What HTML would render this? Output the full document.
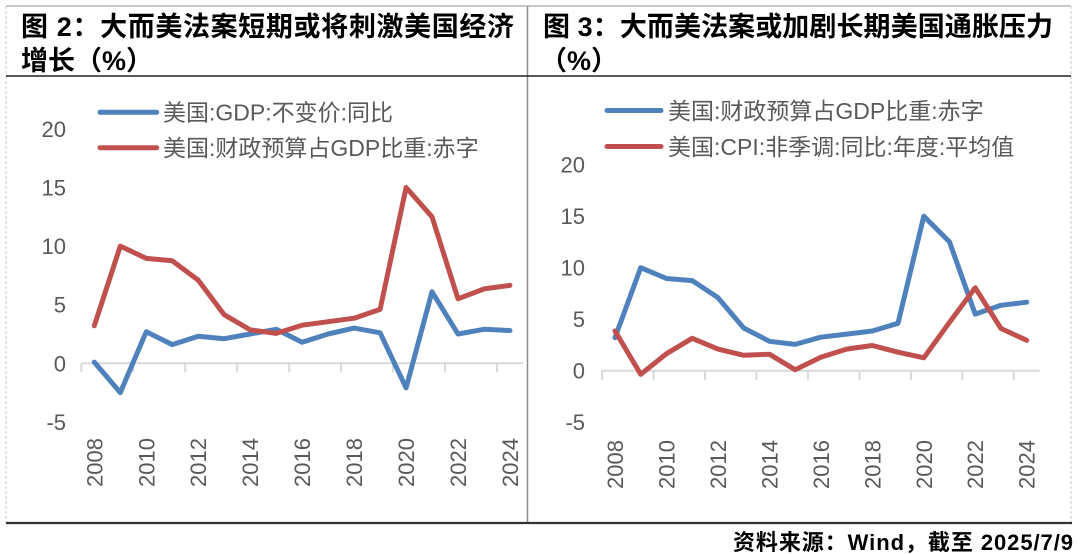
<!DOCTYPE html>
<html>
<head>
<meta charset="utf-8">
<style>
  html, body { margin:0; padding:0; background:#fff; }
  body { width:1080px; height:554px; overflow:hidden; }
  svg { display:block; }
  .t { font-family:"Liberation Sans","Noto Sans CJK SC",sans-serif; }
</style>
</head>
<body>
<svg width="1080" height="554" viewBox="0 0 1080 554" xmlns="http://www.w3.org/2000/svg">
  <rect x="0" y="0" width="1080" height="554" fill="#fff"/>

  <!-- frame -->
  <line x1="6" y1="6" x2="1071" y2="6" stroke="#a6a6a6" stroke-width="1.2"/>
  <line x1="6" y1="6" x2="6" y2="523" stroke="#c8c8c8" stroke-width="1" stroke-dasharray="3,2"/>
  <line x1="1071" y1="6" x2="1071" y2="523" stroke="#c8c8c8" stroke-width="1" stroke-dasharray="3,2"/>
  <line x1="527.5" y1="6" x2="527.5" y2="523" stroke="#8c8c8c" stroke-width="1.5"/>
  <line x1="6" y1="76" x2="1071" y2="76" stroke="#222" stroke-width="1.6"/>
  <line x1="6" y1="523" x2="1072" y2="523" stroke="#333" stroke-width="2.2"/>

  <!-- titles -->
  <g class="t" font-weight="bold" font-size="27" fill="#000">
    <text x="21" y="36" textLength="493">图 2：大而美法案短期或将刺激美国经济</text>
    <text x="21" y="70">增长（%）</text>
    <text x="543" y="36" textLength="510">图 3：大而美法案或加剧长期美国通胀压力</text>
    <text x="540" y="70">（%）</text>
  </g>

  <!-- footer -->
  <text class="t" x="1073" y="550" text-anchor="end" font-weight="bold" font-size="22" fill="#000" textLength="340">资料来源：Wind，截至 2025/7/9</text>

  <!-- ============ LEFT CHART ============ -->
  <!-- legend -->
  <line x1="100" y1="112.3" x2="156.7" y2="112.3" stroke="#4F81BD" stroke-width="5" stroke-linecap="round"/>
  <line x1="100" y1="147.7" x2="156.7" y2="147.7" stroke="#C0504D" stroke-width="5" stroke-linecap="round"/>
  <g class="t" font-size="23" fill="#595959">
    <text x="163" y="120.5">美国:GDP:不变价:同比</text>
    <text x="163" y="156">美国:财政预算占GDP比重:赤字</text>
  </g>

  <!-- y labels -->
  <g class="t" font-size="22" fill="#595959" text-anchor="end">
    <text x="66" y="136.9">20</text>
    <text x="66" y="195.5">15</text>
    <text x="66" y="254.1">10</text>
    <text x="66" y="312.7">5</text>
    <text x="66" y="371.3">0</text>
    <text x="66" y="429.9">-5</text>
  </g>

  <!-- axis -->
  <g stroke="#d9d9d9" stroke-width="2">
    <line x1="81.3" y1="363.3" x2="523" y2="363.3"/>
    <line x1="81.3" y1="363.3" x2="81.3" y2="372.3"/>
    <line x1="133.3" y1="363.3" x2="133.3" y2="372.3"/>
    <line x1="185.2" y1="363.3" x2="185.2" y2="372.3"/>
    <line x1="237.2" y1="363.3" x2="237.2" y2="372.3"/>
    <line x1="289.2" y1="363.3" x2="289.2" y2="372.3"/>
    <line x1="341.1" y1="363.3" x2="341.1" y2="372.3"/>
    <line x1="393.1" y1="363.3" x2="393.1" y2="372.3"/>
    <line x1="445.0" y1="363.3" x2="445.0" y2="372.3"/>
    <line x1="497.0" y1="363.3" x2="497.0" y2="372.3"/>
  </g>

  <!-- x labels -->
  <g class="t" font-size="22" fill="#595959" text-anchor="end">
    <text transform="translate(102.3,438) rotate(-90)">2008</text>
    <text transform="translate(154.3,438) rotate(-90)">2010</text>
    <text transform="translate(206.2,438) rotate(-90)">2012</text>
    <text transform="translate(258.2,438) rotate(-90)">2014</text>
    <text transform="translate(310.1,438) rotate(-90)">2016</text>
    <text transform="translate(362.1,438) rotate(-90)">2018</text>
    <text transform="translate(414.1,438) rotate(-90)">2020</text>
    <text transform="translate(466.0,438) rotate(-90)">2022</text>
    <text transform="translate(518.0,438) rotate(-90)">2024</text>
  </g>

  <!-- series -->
  <polyline fill="none" stroke="#4F81BD" stroke-width="5" stroke-linejoin="round" stroke-linecap="round"
    points="94.3,362.1 120.3,392.6 146.3,331.7 172.2,344.6 198.2,336.3 224.2,338.7 250.2,334.0 276.2,329.3 302.1,342.2 328.1,334.0 354.1,328.1 380.1,332.8 406.1,387.9 432.0,291.8 458.0,334.0 484.0,329.3 510.0,330.5"/>
  <polyline fill="none" stroke="#C0504D" stroke-width="5" stroke-linejoin="round" stroke-linecap="round"
    points="94.3,325.8 120.3,246.1 146.3,258.4 172.2,260.7 198.2,280.1 224.2,314.7 250.2,329.9 276.2,333.4 302.1,325.2 328.1,321.7 354.1,318.2 380.1,309.4 406.1,187.5 432.0,216.8 458.0,298.8 484.0,288.9 510.0,285.4"/>

  <!-- ============ RIGHT CHART ============ -->
  <!-- legend -->
  <line x1="607" y1="110.5" x2="661" y2="110.5" stroke="#4F81BD" stroke-width="5" stroke-linecap="round"/>
  <line x1="607" y1="146.5" x2="661" y2="146.5" stroke="#C0504D" stroke-width="5" stroke-linecap="round"/>
  <g class="t" font-size="23" fill="#595959">
    <text x="668" y="119">美国:财政预算占GDP比重:赤字</text>
    <text x="668" y="155">美国:CPI:非季调:同比:年度:平均值</text>
  </g>

  <!-- y labels -->
  <g class="t" font-size="22" fill="#595959" text-anchor="end">
    <text x="585" y="172.7">20</text>
    <text x="585" y="224.2">15</text>
    <text x="585" y="275.7">10</text>
    <text x="585" y="327.2">5</text>
    <text x="585" y="378.7">0</text>
    <text x="585" y="430.2">-5</text>
  </g>

  <!-- axis -->
  <g stroke="#d9d9d9" stroke-width="2">
    <line x1="602.1" y1="370.7" x2="1039.5" y2="370.7"/>
    <line x1="602.1" y1="370.7" x2="602.1" y2="379.7"/>
    <line x1="653.6" y1="370.7" x2="653.6" y2="379.7"/>
    <line x1="705.0" y1="370.7" x2="705.0" y2="379.7"/>
    <line x1="756.5" y1="370.7" x2="756.5" y2="379.7"/>
    <line x1="807.9" y1="370.7" x2="807.9" y2="379.7"/>
    <line x1="859.4" y1="370.7" x2="859.4" y2="379.7"/>
    <line x1="910.9" y1="370.7" x2="910.9" y2="379.7"/>
    <line x1="962.3" y1="370.7" x2="962.3" y2="379.7"/>
    <line x1="1013.8" y1="370.7" x2="1013.8" y2="379.7"/>
  </g>

  <!-- x labels -->
  <g class="t" font-size="22" fill="#595959" text-anchor="end">
    <text transform="translate(623.0,440) rotate(-90)">2008</text>
    <text transform="translate(674.5,440) rotate(-90)">2010</text>
    <text transform="translate(725.9,440) rotate(-90)">2012</text>
    <text transform="translate(777.4,440) rotate(-90)">2014</text>
    <text transform="translate(828.8,440) rotate(-90)">2016</text>
    <text transform="translate(880.3,440) rotate(-90)">2018</text>
    <text transform="translate(931.8,440) rotate(-90)">2020</text>
    <text transform="translate(983.2,440) rotate(-90)">2022</text>
    <text transform="translate(1034.7,440) rotate(-90)">2024</text>
  </g>

  <!-- series -->
  <polyline fill="none" stroke="#4F81BD" stroke-width="5" stroke-linejoin="round" stroke-linecap="round"
    points="615.0,337.7 640.7,267.7 666.5,278.5 692.2,280.6 717.9,297.6 743.7,328.0 769.4,341.3 795.1,344.4 820.8,337.2 846.6,334.1 872.3,331.0 898.0,323.3 923.8,216.2 949.5,241.9 975.2,314.1 1001.0,305.3 1026.7,302.2"/>
  <polyline fill="none" stroke="#C0504D" stroke-width="5" stroke-linejoin="round" stroke-linecap="round"
    points="615.0,331.0 640.7,374.3 666.5,353.7 692.2,338.3 717.9,349.1 743.7,355.3 769.4,354.2 795.1,369.7 820.8,357.3 846.6,349.1 872.3,345.5 898.0,352.2 923.8,357.8 949.5,322.3 975.2,287.8 1001.0,328.5 1026.7,340.3"/>
</svg>
</body>
</html>
